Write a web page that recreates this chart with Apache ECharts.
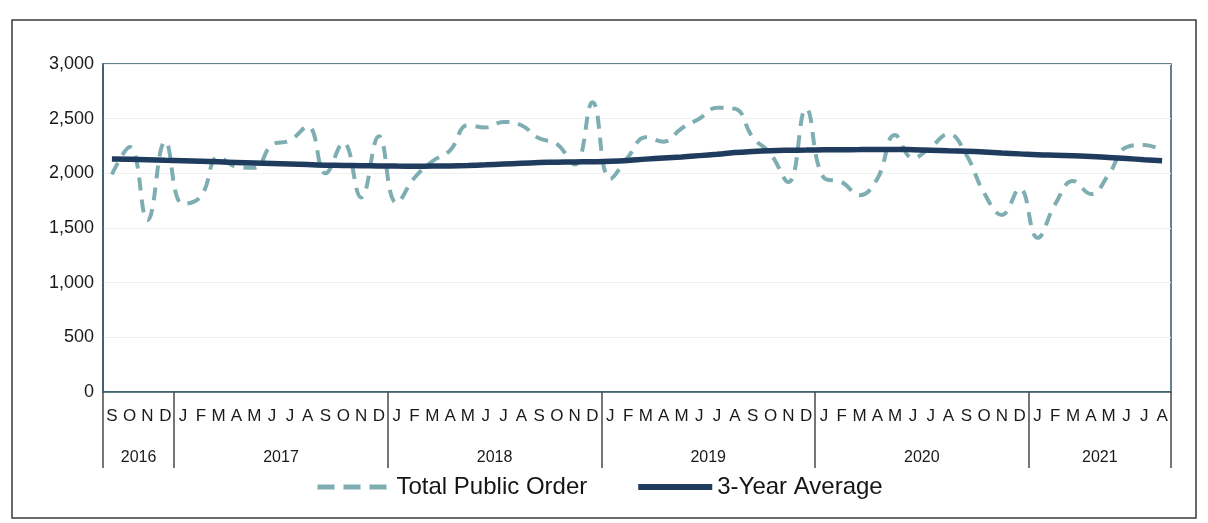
<!DOCTYPE html>
<html>
<head>
<meta charset="utf-8">
<script src="https://cdn.jsdelivr.net/npm/echarts@6/dist/echarts.min.js"></script>
<style>
html,body{margin:0;padding:0;background:#fff;}
#chart{width:1208px;height:523px;}
</style>
</head>
<body>
<div id="chart"></div>
<script>
// Month labels, Sep 2016 – Aug 2021
const months = ['S','O','N','D',
  'J','F','M','A','M','J','J','A','S','O','N','D',
  'J','F','M','A','M','J','J','A','S','O','N','D',
  'J','F','M','A','M','J','J','A','S','O','N','D',
  'J','F','M','A','M','J','J','A','S','O','N','D',
  'J','F','M','A','M','J','J','A'];
const years = ['2016','2017','2018','2019','2020','2021'];
const monthsPerYear = [4, 12, 12, 12, 12, 8];

const totalPublicOrder = [
  1990, 2240, 1570, 2290,
  1720, 1790, 2150, 2060, 2050, 2260, 2300, 2430, 2000, 2280, 1780, 2340,
  1730, 1960, 2110, 2210, 2440, 2420, 2470, 2440, 2320, 2270, 2080, 2650,
  1950, 2150, 2330, 2290, 2410, 2500, 2600, 2590, 2330, 2180, 1920, 2590,
  1960, 1920, 1800, 1950, 2350, 2140, 2240, 2360, 2170, 1820, 1620, 1860,
  1410, 1720, 1930, 1810, 1990, 2240, 2260, 2210
];
const threeYearAverage = [
  2130, 2128, 2125, 2120,
  2115, 2110, 2105, 2100, 2095, 2090, 2085, 2080, 2075, 2072, 2070, 2068,
  2066, 2065, 2066, 2068, 2072, 2078, 2085, 2092, 2098, 2102, 2104, 2106,
  2110, 2118, 2130, 2140, 2150, 2162, 2175, 2190, 2200, 2207, 2211, 2213,
  2215, 2216, 2217, 2218, 2218, 2216, 2212, 2207, 2202, 2195, 2186, 2178,
  2170, 2165, 2160, 2155, 2145, 2135, 2125, 2115
];
const yTicks = [0, 500, 1000, 1500, 2000, 2500, 3000];

// year group boundaries and centres (in month units)
const yearBounds = [0];
const yearCenters = [];
const centerToYear = {};
monthsPerYear.forEach((n, k) => {
  const start = yearBounds[yearBounds.length - 1];
  yearBounds.push(start + n);
  const c = start + n / 2;
  yearCenters.push(c);
  centerToYear[c] = years[k];
});

const font = 'Liberation Sans, Arial, sans-serif';
const chart = echarts.init(document.getElementById('chart'));
chart.setOption({
  backgroundColor: '#ffffff',
  animation: false,
  graphic: [{
    type: 'rect',
    shape: {x: 12, y: 20, width: 1184, height: 498},
    style: {fill: 'none', stroke: '#3a3a3a', lineWidth: 1.5},
    silent: true
  }],
  grid: {
    left: 103, right: 37, top: 64, bottom: 131,
    show: true, borderColor: '#35586a', borderWidth: 1.5
  },
  legend: {
    left: 310, top: 470,
    itemWidth: 74, itemHeight: 8, itemGap: 48,
    itemStyle: {opacity: 0},
    textStyle: {fontFamily: font, fontSize: 24, color: '#151515'},
    data: [
      {name: 'Total Public Order', lineStyle: {width: 5, type: [17, 9]}},
      {name: '3-Year Average', lineStyle: {width: 6}}
    ]
  },
  xAxis: [{
    type: 'category',
    data: months,
    boundaryGap: true,
    axisLine: {show: true, lineStyle: {color: '#35586a', width: 1.5}},
    axisTick: {show: false},
    axisLabel: {interval: 0, margin: 16, fontFamily: font, fontSize: 17, color: '#1a1a1a'},
    splitLine: {show: false}
  }, {
    type: 'value',
    min: 0, max: yearBounds[yearBounds.length - 1],
    position: 'bottom',
    axisLine: {show: false},
    splitLine: {show: false},
    axisTick: {show: true, customValues: yearBounds, length: 76, lineStyle: {color: '#4a4a4a', width: 1.5}},
    axisLabel: {
      customValues: yearCenters, margin: 58,
      fontFamily: font, fontSize: 16, color: '#1a1a1a',
      formatter: v => centerToYear[v] || ''
    }
  }],
  yAxis: {
    type: 'value',
    min: yTicks[0], max: yTicks[yTicks.length - 1], interval: 500,
    axisLine: {show: true, lineStyle: {color: '#35586a', width: 1.5}},
    axisTick: {show: false},
    axisLabel: {
      margin: 9, fontFamily: font, fontSize: 18, color: '#1a1a1a',
      formatter: v => v.toLocaleString('en-US')
    },
    splitLine: {show: true, lineStyle: {color: '#f1f1f1', width: 1}}
  },
  series: [{
    name: 'Total Public Order',
    type: 'line',
    data: totalPublicOrder,
    smooth: 0.45,
    symbol: 'none',
    lineStyle: {color: '#7eaeb2', width: 4, type: [13, 9]},
    itemStyle: {color: '#7eaeb2'}
  }, {
    name: '3-Year Average',
    type: 'line',
    data: threeYearAverage,
    smooth: true,
    symbol: 'none',
    lineStyle: {color: '#1f3b5e', width: 5.5},
    itemStyle: {color: '#1f3b5e'}
  }]
});
</script>
</body>
</html>
